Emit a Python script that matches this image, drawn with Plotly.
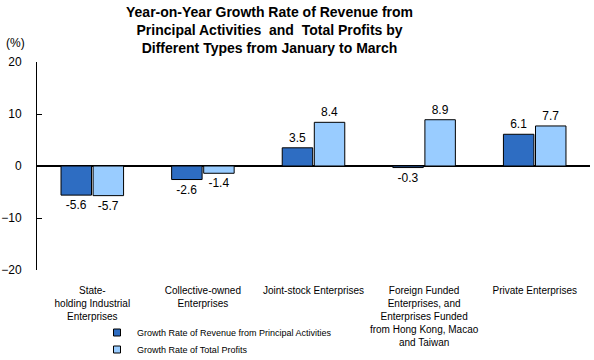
import plotly.graph_objects as go

categories = [
    "State-<br>holding Industrial<br>Enterprises",
    "Collective-owned<br>Enterprises",
    "Joint-stock Enterprises",
    "Foreign Funded<br>Enterprises, and<br>Enterprises Funded<br>from Hong Kong, Macao<br>and Taiwan",
    "Private Enterprises",
]
revenue_growth = [-5.6, -2.6, 3.5, -0.3, 6.1]
profit_growth = [-5.7, -1.4, 8.4, 8.9, 7.7]
series_names = ["Growth Rate of Revenue from Principal Activities", "Growth Rate of Total Profits"]
series_colors = ["#2E6DC2", "#99CCFF"]
y_ticks = [-20, -10, 0, 10, 20]

FONT = "Liberation Sans, Arial, sans-serif"
W, H = 594, 360
L, R, T, B = 37, 4, 62, 90
PW, PH = W - L - R, H - T - B

fig = go.Figure()
for vals, name, col in zip([revenue_growth, profit_growth], series_names, series_colors):
    fig.add_trace(go.Bar(
        x=categories, y=vals, name=name, showlegend=False,
        marker=dict(color=col, line=dict(color="black", width=1)),
        text=[f"{v:.1f}" for v in vals], textposition="outside",
        textfont=dict(size=12, color="black", family=FONT), cliponaxis=False,
        hoverinfo="skip",
    ))
# legend entries (small square swatches like the reference), one legend each
legend_ids = ["legend", "legend2"]
for name, col, lid in zip(series_names, series_colors, legend_ids):
    fig.add_trace(go.Scatter(
        x=[None], y=[None], mode="markers", name=name, legend=lid,
        marker=dict(symbol="square", size=7, color=col, line=dict(color="black", width=1)),
    ))

legend_common = dict(
    x=(97 - L) / PW, xanchor="left", xref="paper", yanchor="top", yref="container",
    font=dict(size=9, family=FONT), itemwidth=30, bgcolor="rgba(0,0,0,0)",
)

fig.update_layout(
    width=W, height=H,
    margin=dict(l=L, r=R, t=T, b=B, autoexpand=False),
    paper_bgcolor="white", plot_bgcolor="white",
    font=dict(family=FONT, size=10, color="black"),
    barmode="group", bargap=0.42, bargroupgap=0.05,
    showlegend=True,
    legend=dict(y=(H - 318) / H, **legend_common),
    legend2=dict(y=(H - 335) / H, **legend_common),
    xaxis=dict(
        automargin=False,
        showline=False, ticks="outside", ticklen=11, tickcolor="rgba(0,0,0,0)",
        tickfont=dict(size=10, family=FONT),
    ),
    yaxis=dict(
        automargin=False,
        range=[-20, 20], tickvals=y_ticks, showgrid=False,
        showline=True, linecolor="black", linewidth=1,
        ticks="inside", ticklen=5, tickcolor="black",
        ticklabelstandoff=12,
        zeroline=True, zerolinecolor="black", zerolinewidth=1.5,
        tickfont=dict(size=12, family=FONT),
    ),
    annotations=[
        dict(
            text="(%)", xref="paper", yref="paper", x=(4 - L) / PW, y=(270 - 43) / PH,
            xanchor="left", yanchor="middle", showarrow=False,
            font=dict(size=12, family=FONT),
        ),
        dict(
            text="<b>Year-on-Year Growth Rate of Revenue from<br>Principal Activities  and  Total Profits by<br>Different Types from January to March</b>",
            xref="paper", yref="paper", x=(269 - L) / PW, y=(270 - 2) / PH,
            xanchor="center", yanchor="top", showarrow=False, align="center",
            font=dict(size=14, family=FONT, color="black"),
        ),
    ],
)

fig.write_html(
    "out.html",
    config={"displayModeBar": False},
    post_script="document.body.style.margin='0';",
)
